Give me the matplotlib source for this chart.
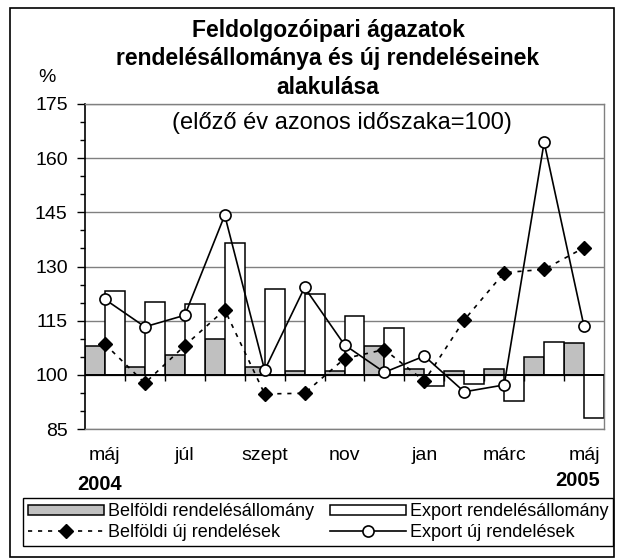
import numpy as np
import matplotlib
matplotlib.use("Agg")
import matplotlib.pyplot as plt
from matplotlib.patches import Rectangle

plt.rcParams['font.family'] = ['Liberation Sans', 'DejaVu Sans']

# Hónapok (2004 máj - 2005 máj)
honapok = ['máj', 'jún', 'júl', 'aug', 'szept', 'okt', 'nov', 'dec',
           'jan', 'febr', 'márc', 'ápr', 'máj']
tick_cimkek = ['máj', '', 'júl', '', 'szept', '', 'nov', '', 'jan', '', 'márc', '', 'máj']

# Értékek (előző év azonos időszaka = 100)
belf_allomany = [108.1, 102.2, 105.4, 109.9, 102.2, 101.0, 101.0, 108.1, 101.6, 101.0, 101.6, 105.0, 108.7]
export_allomany = [123.3, 120.2, 119.5, 136.5, 123.9, 122.3, 116.2, 113.0, 97.0, 97.6, 92.8, 109.1, 88.0]
belf_uj = [108.5, 97.7, 108.1, 118.0, 94.7, 94.9, 104.5, 107.0, 98.3, 115.2, 128.3, 129.2, 135.2]
export_uj = [120.9, 113.3, 116.5, 144.2, 101.3, 124.2, 108.3, 100.7, 105.2, 95.3, 97.2, 164.4, 113.4]

alap = 100
W, H = 622, 559

fig = plt.figure(figsize=(W/100, H/100), dpi=100)
ax = fig.add_axes([85/W, 1-429/H, (604-85)/W, (429-104)/H])

x = np.arange(len(honapok))
b1 = ax.bar(x, np.array(belf_allomany) - alap, width=-0.5, align='edge', bottom=alap,
            color='#c0c0c0', edgecolor='black', linewidth=1.1, zorder=2,
            label='Belföldi rendelésállomány')
b2 = ax.bar(x, np.array(export_allomany) - alap, width=0.5, align='edge', bottom=alap,
            color='white', edgecolor='black', linewidth=1.1, zorder=2,
            label='Export rendelésállomány')
l1, = ax.plot(x, belf_uj, color='black', linestyle=(0, (2.5, 3.5)), linewidth=1.2,
              marker='D', markersize=7.5, markerfacecolor='black', zorder=4,
              label='Belföldi új rendelések')
l2, = ax.plot(x, export_uj, color='black', linestyle='-', linewidth=1.2,
              marker='o', markersize=8, markerfacecolor='white', markeredgewidth=1.2,
              zorder=5, label='Export új rendelések')

# 100-as tengely és osztásjelek
ax.axhline(alap, color='black', linewidth=1.3, zorder=3)
ax.vlines(x[:-1] + 0.5, alap - 1.6, alap, color='black', linewidth=1, zorder=3)

ax.set_xlim(-0.5, len(honapok) - 0.5)
ax.set_ylim(85, 175)
ax.set_yticks(np.arange(85, 176, 15))
ax.set_yticks(np.arange(85, 176, 5), minor=True)
ax.tick_params(axis='y', which='major', length=5.5, width=1, pad=7, labelsize=14, direction='out')
ax.tick_params(axis='y', which='minor', length=3.6, width=1, direction='out')
ax.set_xticks(x)
ax.set_xticklabels(tick_cimkek)
ax.tick_params(axis='x', length=0, pad=13, labelsize=14)

ax.yaxis.grid(True, color='#808080', linewidth=1)
ax.set_axisbelow(True)
for s in ['top', 'right', 'bottom']:
    ax.spines[s].set_color('#808080')
    ax.spines[s].set_linewidth(1)
ax.spines['left'].set_linewidth(1.2)

# Címek
fig.text(328/W, 1-19/H, 'Feldolgozóipari ágazatok\nrendelésállománya és új rendeléseinek\nalakulása',
         ha='center', va='top', fontsize=16.5, fontweight='bold', linespacing=1.3)
fig.text(342/W, 1-123/H, '(előző év azonos időszaka=100)', ha='center', va='center', fontsize=17)
fig.text(47/W, 1-78/H, '%', ha='center', va='center', fontsize=14)
fig.text(100/W, 1-485/H, '2004', ha='center', va='center', fontsize=14.5, fontweight='bold')
fig.text(600/W, 1-480/H, '2005', ha='right', va='center', fontsize=14.5, fontweight='bold')

leg = fig.legend([b1, l1, b2, l2],
                 ['Belföldi rendelésállomány', 'Belföldi új rendelések',
                  'Export rendelésállomány', 'Export új rendelések'],
                 ncol=2, loc='upper left', bbox_to_anchor=(23/W, 1-498/H),
                 bbox_transform=fig.transFigure, borderaxespad=0,
                 fontsize=13, handlelength=4.2, handleheight=0.55, handletextpad=0.2,
                 columnspacing=0.9, borderpad=0.3, labelspacing=0.2,
                 fancybox=False, edgecolor='black', framealpha=1, numpoints=1)
leg.get_frame().set_linewidth(1)

# Külső keret
fig.add_artist(Rectangle((10/W, 1-557/H), (614-10)/W, (557-8)/H, transform=fig.transFigure,
                         fill=False, edgecolor='black', linewidth=1.2))

fig.savefig('out.png', dpi=100)
